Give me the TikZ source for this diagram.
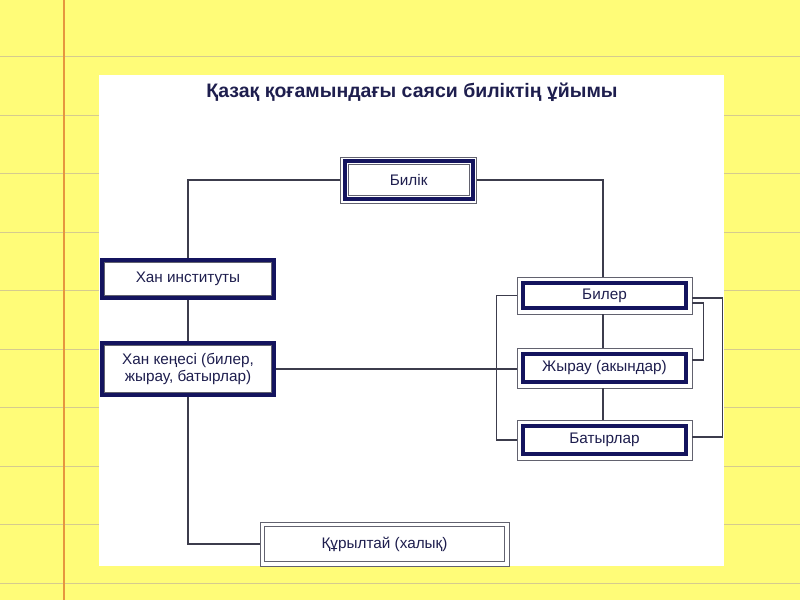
\documentclass[tikz,border=0pt]{standalone}
\usepackage{fontspec}
\setmainfont{Liberation Sans}
\definecolor{paper}{HTML}{FFFC78}
\definecolor{rulec}{HTML}{D6CB8E}
\definecolor{marginc}{HTML}{E6963F}
\definecolor{navy}{HTML}{14145E}
\definecolor{txt}{HTML}{1E1E4E}
\definecolor{conn}{HTML}{3C3C4C}
\definecolor{thinc}{HTML}{62626F}
\tikzset{
  ruleline/.style={rulec, line width=1pt},
  marginline/.style={marginc, line width=2.4pt},
  thinbox/.style={draw=thinc, line width=0.9pt, fill=white, inner sep=0pt, align=center,
    font=\fontsize{15.3}{17}\selectfont, text=txt},
  thickbox/.style={draw=navy, line width=4pt, fill=white, inner sep=0pt, align=center,
    font=\fontsize{15.3}{17}\selectfont, text=txt},
  thickline/.style={draw=navy, line width=4pt},
  thinline/.style={draw=thinc, line width=0.9pt},
  connector/.style={draw=conn, line width=1.1pt},
}
\begin{document}
\begin{tikzpicture}[x=1pt,y=-1pt]
\useasboundingbox (0,0) rectangle (800,600);
\fill[paper] (0,0) rectangle (800,600);
\foreach \k in {0,...,9} \draw[ruleline] (0,56.5+58.5*\k) -- (800,56.5+58.5*\k);
\draw[marginline] (64,0) -- (64,600);
\fill[white] (99,75) rectangle (724,566);

\node[anchor=base, text=txt, font=\fontsize{19.5}{22}\selectfont\bfseries] (title) at (412,97)
  {Қазақ қоғамындағы саяси биліктің ұйымы};

% Билік
\node[thinbox, minimum width=136pt, minimum height=46pt] (bilik) at (408.7,180) {Билік};
\draw[thickline] ([shift={(4.5pt,-4.5pt)}]bilik.north west) rectangle ([shift={(-4.5pt,4.5pt)}]bilik.south east);
\draw[thinline] ([shift={(8pt,-8pt)}]bilik.north west) rectangle ([shift={(-8pt,8pt)}]bilik.south east);

% Хан институты
\node[thickbox, minimum width=172pt, minimum height=38pt] (khan1) at (188,279) {Хан институты};
\draw[thinline] ([shift={(4.5pt,-4.5pt)}]khan1.north west) rectangle ([shift={(-4.5pt,4.5pt)}]khan1.south east);

% Хан кеңесі
\node[thickbox, minimum width=172pt, minimum height=52pt] (khan2) at (188,369) {Хан кеңесі (билер,\\жырау, батырлар)};
\draw[thinline] ([shift={(4.5pt,-4.5pt)}]khan2.north west) rectangle ([shift={(-4.5pt,4.5pt)}]khan2.south east);

% Билер, Жырау, Батырлар
\node[thinbox, minimum width=175pt, minimum height=37pt] (biler) at (604.5,295.5) {Билер};
\draw[thickline] ([shift={(6pt,-6pt)}]biler.north west) rectangle ([shift={(-6pt,6pt)}]biler.south east);
\node[thinbox, minimum width=175pt, minimum height=40pt] (zhyrau) at (604.5,368) {Жырау (акындар)};
\draw[thickline] ([shift={(6pt,-6pt)}]zhyrau.north west) rectangle ([shift={(-6pt,6pt)}]zhyrau.south east);
\node[thinbox, minimum width=175pt, minimum height=40pt] (batyr) at (604.5,440) {Батырлар};
\draw[thickline] ([shift={(6pt,-6pt)}]batyr.north west) rectangle ([shift={(-6pt,6pt)}]batyr.south east);

% Құрылтай
\node[thinbox, minimum width=249pt, minimum height=44pt] (kurultai) at (384.5,544) {Құрылтай (халық)};
\draw[thinline] ([shift={(5pt,-5pt)}]kurultai.north west) rectangle ([shift={(-5pt,5pt)}]kurultai.south east);

% connectors
\draw[connector] (bilik.west) -| (khan1.north);
\draw[connector] (bilik.east) -| ([xshift=-1.5pt]biler.north);
\draw[connector] (khan1.south) -- (khan2.north);
\draw[connector] (khan2.south) |- (kurultai.west);
\draw[connector] (khan2.east) -- (khan2.east -| zhyrau.west);
\draw[connector] (biler.west) -- ++(-20,0) |- (batyr.west);
\draw[connector] ([xshift=-1.5pt]biler.south) -- ([xshift=-1.5pt]zhyrau.north);
\draw[connector] ([xshift=-1.5pt]zhyrau.south) -- ([xshift=-1.5pt]batyr.north);
\draw[connector] ([yshift=-7.5pt]biler.east) -- ++(11,0) |- ([yshift=8pt]zhyrau.east);
\draw[connector] ([yshift=-2.5pt]biler.east) -- ++(30,0) |- ([yshift=3pt]batyr.east);
\end{tikzpicture}
\end{document}
